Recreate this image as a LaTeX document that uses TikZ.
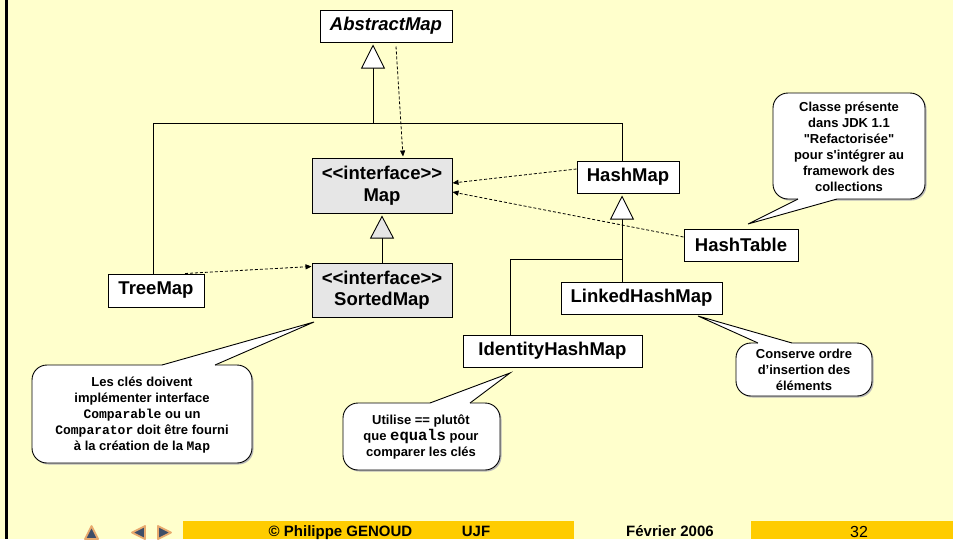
\documentclass[tikz,border=0pt]{standalone}
\usepackage{fontspec}
\setmainfont{Liberation Sans}[Ligatures=TeXOff]
\newfontfamily\codefont{Liberation Mono}[Ligatures=TeXOff]
\usepackage{tikz}
\usetikzlibrary{arrows.meta}
\usetikzlibrary{shadows}
\usepackage{xcolor}
\definecolor{slidebg}{RGB}{255,255,204}
\definecolor{ifacegray}{RGB}{230,230,230}
\definecolor{footgold}{RGB}{255,204,0}
\definecolor{navblue}{RGB}{62,78,104}
\definecolor{navglow}{RGB}{232,170,110}
\newcommand{\code}[1]{{\codefont\bfseries #1}}
\tikzset{
  classbox/.style={draw, line width=1pt, fill=white, inner sep=0pt, align=center,
    font=\bfseries\fontsize{18.5}{21.5}\selectfont,
    drop shadow={shadow xshift=1.2pt, shadow yshift=-1.2pt, fill=gray, opacity=.6}},
  ifacebox/.style={classbox, fill=ifacegray},
  inherit/.style={line width=.9pt, shorten >=2pt,
    -{Triangle[length=24pt, width=24pt, fill=white]}},
  inheritiface/.style={inherit, -{Triangle[length=23pt, width=24pt, fill=ifacegray]}},
  realize/.style={line width=.8pt, dash pattern=on 3pt off 2pt,
    -{Triangle[length=6pt, width=5pt]}},
  bubble/.style={draw, line width=.9pt, fill=white, rounded corners=15pt},
  bubbleshadow/.style={fill=gray!55, rounded corners=15pt},
  bubbletext/.style={align=center, font=\bfseries\fontsize{13}{16}\selectfont},
  foottext/.style={anchor=base, font=\bfseries\fontsize{15}{15}\selectfont},
  navtip/.style={fill=navblue, draw=navglow, line width=1.8pt, line join=round}
}
\begin{document}
\begin{tikzpicture}[x=1pt,y=-1pt]
        \useasboundingbox (0,0) rectangle (953,539);
        \fill[slidebg] (0,0) rectangle (953,539);
        \draw[line width=2.5pt] (6.5,0) -- (6.5,539);

        % classes and interfaces
        \node[classbox, minimum width=132pt, minimum height=32pt,
          font=\bfseries\itshape\fontsize{18.5}{21.5}\selectfont] (abstractmap) at (386,26) {AbstractMap};
        \node[ifacebox, minimum width=140pt, minimum height=55pt] (map) at (382,185.5) {<<interface>>\\Map};
        \node[ifacebox, minimum width=140pt, minimum height=54pt] (sortedmap) at (382,290) {<<interface>>\\SortedMap};
        \node[classbox, minimum width=96pt, minimum height=33pt] (treemap) at (156,290.5) {TreeMap};
        \node[classbox, minimum width=102pt, minimum height=32pt] (hashmap) at (628,177) {HashMap};
        \node[classbox, minimum width=114pt, minimum height=32pt] (hashtable) at (741,245) {HashTable};
        \node[classbox, minimum width=161pt, minimum height=32pt] (linkedhashmap) at (641.5,298) {LinkedHashMap};
        \node[classbox, minimum width=179pt, minimum height=32pt] (identityhashmap) at (552.5,351) {IdentityHashMap};

        % inheritance
        \coordinate (abar) at (373,123);
        \coordinate (tbar) at (153,123);
        \coordinate (hbar) at (622,123);
        \coordinate (lbar) at (622,259);
        \coordinate (ibar) at (510,259);
        \draw[line width=.9pt] (tbar |- treemap.north) -- (tbar) -- (hbar) -- (hbar |- hashmap.north);
        \draw[inherit] (abar) -- (abar |- abstractmap.south);
        \draw[inheritiface] (sortedmap.north) -- (map.south);
        \draw[line width=.9pt] (ibar |- identityhashmap.north) -- (ibar) -- (lbar) -- (lbar |- linkedhashmap.north);
        \draw[inherit] (lbar) -- (lbar |- hashmap.south);

        % implementation
        \draw[realize] ([xshift=10pt,yshift=-4pt]abstractmap.south) -- ([xshift=21pt,yshift=1pt]map.north);
        \draw[realize] ([xshift=29pt]treemap.north) -- ([yshift=-4pt]sortedmap.north west);
        \draw[realize] ([yshift=8pt]hashmap.west) -- ([yshift=2.5pt]map.east);
        \draw[realize] ([yshift=8pt]hashtable.west) -- ([yshift=-6.5pt]map.east);

        % callouts
        \fill[bubbleshadow] (774.5,94.5) rectangle (926.5,200.5);
        \draw[bubble] (773,93) rectangle (925,199);
        \fill[white] (798,197) -- (837,197) -- (837,199) -- (748,224) -- (798,199) -- cycle;
        \draw[line width=.9pt] (798,199) -- (748,224) -- (837,199);
        \node[bubbletext] (jdknote) at (849,147) {Classe présente\\dans JDK 1.1\\"Refactorisée"\\pour s'intégrer au\\framework des\\collections};

        \fill[bubbleshadow] (33.5,366.5) rectangle (253.5,464.5);
        \draw[bubble] (32,365) rectangle (252,463);
        \fill[white] (162,367) -- (162,365) -- (314,322) -- (215,365) -- (215,367) -- cycle;
        \draw[line width=.9pt] (162,365) -- (314,322) -- (215,365);
        \node[bubbletext] (sortednote) at (142,415) {Les clés doivent\\implémenter interface\\\code{Comparable} ou un\\\code{Comparator} doit être fourni\\à la création de la \code{Map}};

        \fill[bubbleshadow] (344.5,404.5) rectangle (501.5,471.5);
        \draw[bubble] (343,403) rectangle (500,470);
        \fill[white] (430,405) -- (430,403) -- (510,373) -- (470,403) -- (470,405) -- cycle;
        \draw[line width=.9pt] (430,403) -- (510,373) -- (470,403);
        \node[bubbletext] (identitynote) at (421,437) {Utilise == plutôt\\que {\codefont\fontsize{15.5}{16}\selectfont equals} pour\\comparer les clés};

        \fill[bubbleshadow] (737.5,344.5) rectangle (873.5,397.5);
        \draw[bubble] (736,343) rectangle (872,396);
        \fill[white] (758,345) -- (758,343) -- (698,316) -- (792,343) -- (792,345) -- cycle;
        \draw[line width=.9pt] (758,343) -- (698,316) -- (792,343);
        \node[bubbletext] (linkednote) at (804,370) {Conserve ordre\\d’insertion des\\éléments};

        % footer
        \fill[footgold] (183,521) rectangle (574,539);
        \fill[footgold] (751,521) rectangle (953,539);
        \node[foottext] (author) at (340.5,536) {© Philippe GENOUD};
        \node[foottext] (univ) at (476,536) {UJF};
        \node[foottext] (date) at (670,536) {Février 2006};
        \node[foottext, font=\fontsize{16}{16}\selectfont] (pagenum) at (859,537) {32};
        \draw[navtip] (85,539) -- (91.5,526) -- (98,539) -- cycle;
        \draw[navtip] (132,532.5) -- (145,526) -- (145,539) -- cycle;
        \draw[navtip] (158,526) -- (171,532.5) -- (158,539) -- cycle;
      \end{tikzpicture}
\end{document}
